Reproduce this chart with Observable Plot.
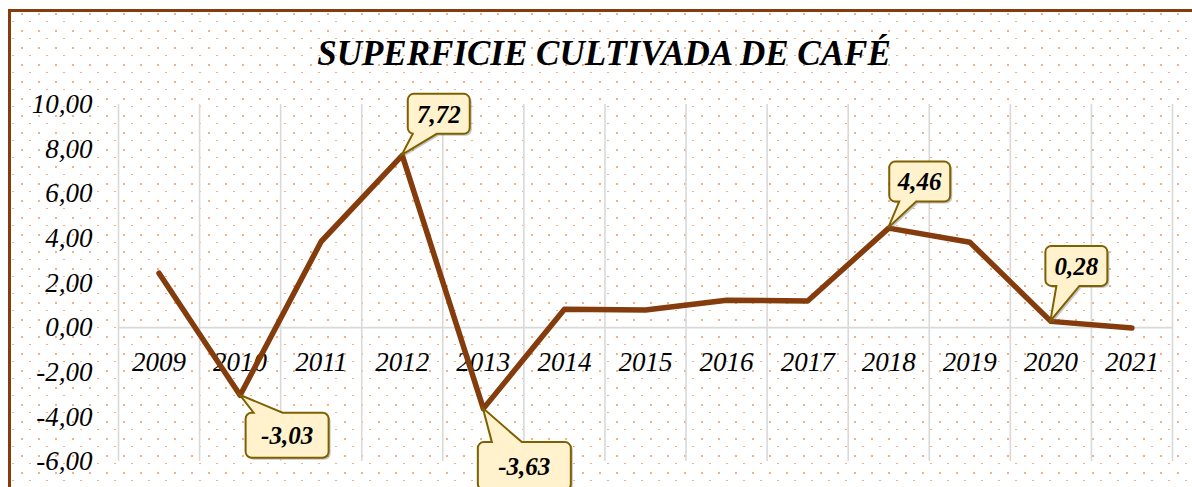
<!DOCTYPE html>
<html><head><meta charset="utf-8">
<script src="https://cdn.jsdelivr.net/npm/d3@7"></script>
<script src="https://cdn.jsdelivr.net/npm/@observablehq/plot@0.6"></script>
<style>
html,body{margin:0;padding:0;background:#fff;width:1192px;height:487px;overflow:hidden;position:relative}
#frame{position:absolute;left:8px;top:9px;width:1200px;height:500px;border-top:3px solid #843C0C;border-left:3px solid #843C0C;
background-image:url("data:image/svg+xml,<svg xmlns='http://www.w3.org/2000/svg' width='17' height='17' shape-rendering='crispEdges'><rect x='0' y='0' width='2' height='2' fill='%23F4B183'/><rect x='8' y='8' width='2' height='1' fill='%23F4B183'/></svg>");
background-position:10px 1px;}
#chart{position:absolute;left:0;top:0;width:1192px}
#title{height:80px;box-sizing:border-box;padding-top:34px;padding-left:16px;line-height:35px;text-align:center;font:italic bold 35px "Liberation Serif","Times New Roman",serif;color:#000;white-space:nowrap}
</style>
</head>
<body>
<div id="frame"></div>
<div id="chart"><div id="title">SUPERFICIE CULTIVADA DE CAFÉ</div></div>
<script>
// ---- data ----
const years = [2009, 2010, 2011, 2012, 2013, 2014, 2015, 2016, 2017, 2018, 2019, 2020, 2021];
const values = [2.44, -3.03, 3.86, 7.72, -3.63, 0.82, 0.79, 1.23, 1.19, 4.46, 3.83, 0.28, -0.02];
const yTicks = [-6, -4, -2, 0, 2, 4, 6, 8, 10];
const labeledYears = [2010, 2012, 2013, 2018, 2020];

// ---- layout for callouts (offsets from the point, in px) ----
const calloutLayout = {
  2010: {l: 6, t: 18, w: 83, h: 45, side: "top", b0: 8, b1: 37},
  2012: {l: 6, t: -61, w: 62, h: 40, side: "bottom", b0: 5, b1: 29},
  2013: {l: -5, t: 34, w: 93, h: 48, side: "top", b0: 14, b1: 44},
  2018: {l: 1, t: -66, w: 61, h: 40, side: "bottom", b0: 10, b1: 27},
  2020: {l: -5, t: -75, w: 62, h: 40, side: "bottom", b0: 11, b1: 34}
};

const data = years.map((year, i) => ({year, value: values[i]}));
const gridEdges = years.map(y => y - 0.5).concat([years[years.length - 1] + 0.5]);
const fmt = v => v.toFixed(2).replace(".", ",");

function calloutPath(l, t, w, h, r, side, b0, b1, tx, ty) {
  const R = l + w, B = t + h;
  if (side === "bottom") {
    return `M${l + r},${t}H${R - r}A${r},${r} 0 0 1 ${R},${t + r}V${B - r}A${r},${r} 0 0 1 ${R - r},${B}H${b1}L${tx},${ty}L${b0},${B}H${l + r}A${r},${r} 0 0 1 ${l},${B - r}V${t + r}A${r},${r} 0 0 1 ${l + r},${t}Z`;
  }
  return `M${l + r},${t}H${b0}L${tx},${ty}L${b1},${t}H${R - r}A${r},${r} 0 0 1 ${R},${t + r}V${B - r}A${r},${r} 0 0 1 ${R - r},${B}H${l + r}A${r},${r} 0 0 1 ${l},${B - r}V${t + r}A${r},${r} 0 0 1 ${l + r},${t}Z`;
}

function callouts(index, scales) {
  const g = d3.create("svg:g");
  labeledYears.forEach(yr => {
    const v = values[years.indexOf(yr)];
    const px = scales.x(yr), py = scales.y(v);
    const c = calloutLayout[yr];
    const l = px + c.l, t = py + c.t;
    const d = calloutPath(l, t, c.w, c.h, 6, c.side, l + c.b0, l + c.b1, px, py);
    g.append("path").attr("d", d).attr("transform", "translate(2,2)")
      .attr("fill", "#808080").attr("fill-opacity", 0.45);
    g.append("path").attr("d", d).attr("fill", "#FFF2CC")
      .attr("stroke", "#7F6000").attr("stroke-width", 2);
    g.append("text").attr("x", l + c.w / 2).attr("y", t + c.h / 2)
      .attr("dy", "0.35em").attr("text-anchor", "middle")
      .attr("font-family", "'Liberation Serif','Times New Roman',serif")
      .attr("font-style", "italic").attr("font-weight", "bold")
      .attr("font-size", 25).attr("fill", "#000")
      .text(fmt(v));
  });
  return g.node();
}

const plot = Plot.plot({
  width: 1192,
  height: 407,
  marginLeft: 118,
  marginRight: 20,
  marginTop: 24,
  marginBottom: 26,
  style: {
    background: "transparent",
    fontFamily: "'Liberation Serif','Times New Roman',serif",
    fontStyle: "italic",
    fontSize: "27px",
    color: "#000",
    overflow: "visible"
  },
  x: {domain: [2008.5, 2021.5], axis: null},
  y: {domain: [-6, 10], label: null},
  marks: [
    Plot.ruleX(gridEdges, {x: d => d, stroke: "#D9D9D9", strokeWidth: 1.6}),
    Plot.ruleY([0], {stroke: "#D9D9D9", strokeWidth: 1.6}),
    Plot.axisY(yTicks, {tickSize: 0, tickPadding: 26, tickFormat: fmt, label: null}),
    Plot.text(years, {x: d => d, y: () => 0, dy: 35, text: d => String(d)}),
    Plot.line(data, {x: "year", y: "value", stroke: "#843C0C", strokeWidth: 5.5}),
    callouts
  ]
});
document.getElementById("chart").appendChild(plot);
</script>
</body></html>
